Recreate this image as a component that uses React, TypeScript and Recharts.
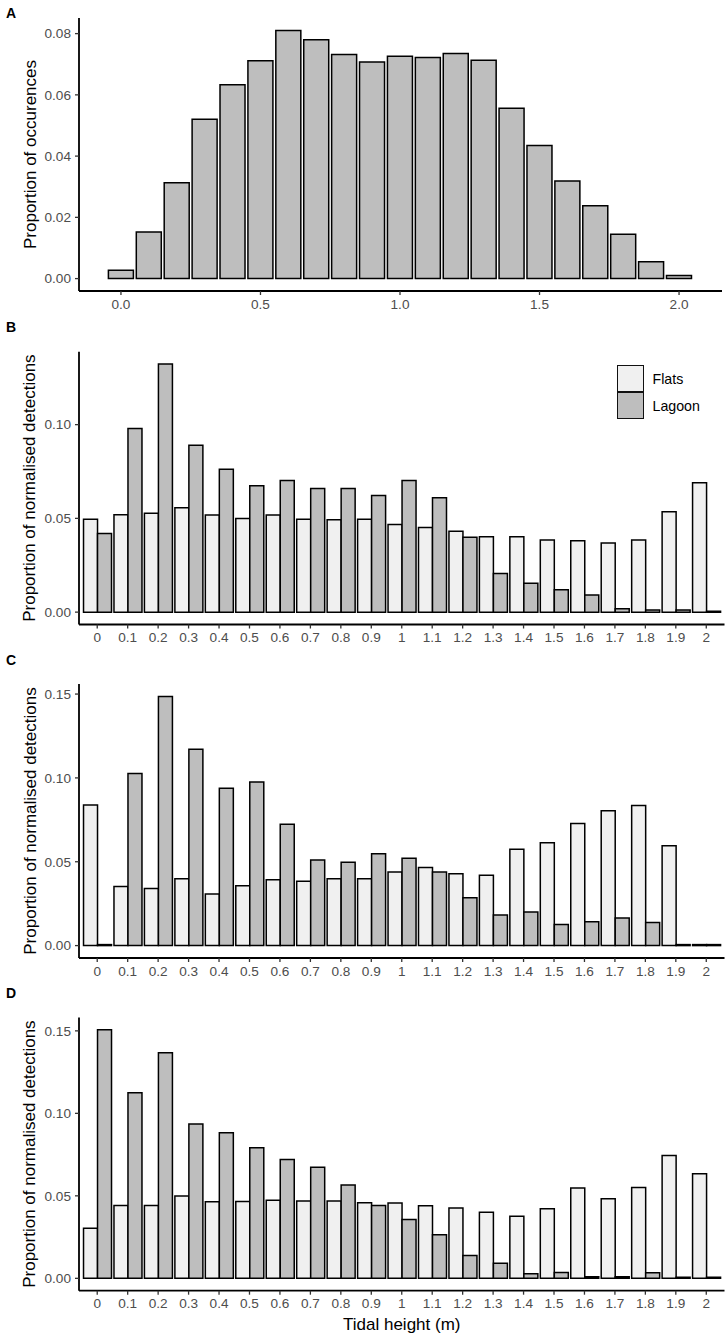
import React from 'react';
import { BarChart, Bar, XAxis, YAxis, Legend } from 'recharts';

const FONT = '"Liberation Sans", Arial, Helvetica, sans-serif';
const TICK_GREY = '#4D4D4D';
const OCC_FILL = '#BEBEBE';
const FLATS_FILL = '#F0F0F0';
const LAGOON_FILL = '#BEBEBE';

// tidal height bins (m)
const heights = [0, 0.1, 0.2, 0.3, 0.4, 0.5, 0.6, 0.7, 0.8, 0.9, 1, 1.1, 1.2, 1.3, 1.4, 1.5, 1.6, 1.7, 1.8, 1.9, 2];

// A: proportion of occurences of each tidal height
const occurrences = [
  0.0027, 0.0152, 0.0313, 0.052, 0.0633, 0.0711, 0.081, 0.078, 0.0732, 0.0707, 0.0726,
  0.0722, 0.0735, 0.0713, 0.0556, 0.0435, 0.0319, 0.0238, 0.0145, 0.0055, 0.001,
];

// B
const flatsB = [
  0.0495, 0.052, 0.0527, 0.0557, 0.0518, 0.05, 0.0518, 0.0495, 0.0493, 0.0495, 0.0468,
  0.0452, 0.0431, 0.0402, 0.0402, 0.0385, 0.0381, 0.0369, 0.0385, 0.0535, 0.069,
];
const lagoonB = [
  0.042, 0.098, 0.1323, 0.089, 0.0762, 0.0674, 0.0702, 0.066, 0.066, 0.0622, 0.0702,
  0.061, 0.0399, 0.0206, 0.0154, 0.0119, 0.0092, 0.0018, 0.0012, 0.0012, 0,
];

// C
const flatsC = [
  0.0838, 0.0353, 0.0341, 0.0399, 0.0307, 0.0357, 0.0393, 0.0383, 0.0399, 0.0399, 0.0439,
  0.0465, 0.0429, 0.0419, 0.0575, 0.0614, 0.0728, 0.0804, 0.0836, 0.0596, 0,
];
const lagoonC = [
  0, 0.1027, 0.1486, 0.1171, 0.0938, 0.0975, 0.0724, 0.0511, 0.0497, 0.0547, 0.0521,
  0.0439, 0.0285, 0.0182, 0.0201, 0.0126, 0.0142, 0.0164, 0.0138, 0, 0,
];

// D
const flatsD = [
  0.0304, 0.0442, 0.0442, 0.0499, 0.0464, 0.0466, 0.0474, 0.0468, 0.0468, 0.0458, 0.0456,
  0.044, 0.0426, 0.0401, 0.0377, 0.0422, 0.0547, 0.0482, 0.0551, 0.0744, 0.0634,
];
const lagoonD = [
  0.1506, 0.1125, 0.1368, 0.0935, 0.0882, 0.0791, 0.072, 0.0673, 0.0566, 0.0442, 0.0357,
  0.0264, 0.0138, 0.0091, 0.0028, 0.0036, 0.001, 0.001, 0.0034, 0, 0,
];

const occTicks = [0, 0.02, 0.04, 0.06, 0.08];
const detTicksB = [0, 0.05, 0.1];
const detTicksCD = [0, 0.05, 0.1, 0.15];

const occData = heights.map((h, i) => ({ h, occ: occurrences[i] }));
const makeRows = (flats: number[], lagoon: number[]) =>
  heights.map((h, i) => ({ h, flats: flats[i], lagoon: lagoon[i] }));

const BAR_STROKE = 1.5;
const tickStyle = { fill: TICK_GREY, fontSize: 13.6, fontFamily: FONT };
const axisLine = { stroke: '#000', strokeWidth: 1.8 };
const tickLine = { stroke: '#333', strokeWidth: 1.3 };

const yTitle = (text: string) => ({
  content: (props: any) => {
    const vb = props.viewBox || {};
    const cx = 30;
    const cy = (vb.y ?? 0) + (vb.height ?? 0) / 2;
    return (
      <text
        x={cx}
        y={cy}
        transform={`rotate(-90 ${cx} ${cy})`}
        textAnchor="middle"
        dominantBaseline="central"
        fontSize={17}
        fontFamily={FONT}
        fill="#000"
      >
        {text}
      </text>
    );
  },
});

const xTitle = (text: string) => ({
  content: (props: any) => {
    const vb = props.viewBox || {};
    const cx = (vb.x ?? 0) + (vb.width ?? 0) / 2;
    const cy = (vb.y ?? 0) + 34;
    return (
      <text x={cx} y={cy} textAnchor="middle" dominantBaseline="central" fontSize={17} fontFamily={FONT} fill="#000">
        {text}
      </text>
    );
  },
});

const LEGEND_FILLS: Record<string, string> = { Flats: FLATS_FILL, Lagoon: LAGOON_FILL };

const LegendBox = (props: any) => {
  const items = props.payload || [];
  return (
    <div style={{ fontFamily: FONT }}>
      {items.map((it: any) => (
        <div key={it.value} style={{ display: 'flex', alignItems: 'center', height: 27 }}>
          <div
            style={{
              width: 26.5,
              height: 27,
              boxSizing: 'border-box',
              border: '1.5px solid #111',
              background: LEGEND_FILLS[it.value] || it.color,
            }}
          />
          <span style={{ marginLeft: 9, fontSize: 14.2, color: '#000' }}>{it.value}</span>
        </div>
      ))}
    </div>
  );
};

const PanelLetter = ({ letter, top }: { letter: string; top: number }) => (
  <div
    style={{
      position: 'absolute',
      left: 6,
      top,
      fontFamily: FONT,
      fontWeight: 'bold',
      fontSize: 14,
      lineHeight: '14px',
    }}
  >
    {letter}
  </div>
);

type DetProps = {
  top: number;
  height: number;
  plotTop: number;
  xAxisHeight: number;
  flats: number[];
  lagoon: number[];
  domain: [number, number];
  ticks: number[];
  legend?: boolean;
  xLabel?: boolean;
};

const DetectionPanel = ({ top, height, plotTop, xAxisHeight, flats, lagoon, domain, ticks, legend, xLabel }: DetProps) => (
  <div style={{ position: 'absolute', left: 0, top }}>
    <BarChart
      width={727}
      height={height}
      data={makeRows(flats, lagoon)}
      margin={{ top: plotTop, right: 2.5, left: 0, bottom: 0 }}
      barGap={0}
      barCategoryGap="5%"
    >
      <XAxis
        dataKey="h"
        interval={0}
        height={xAxisHeight}
        padding={{ left: 3, right: 3 }}
        tickFormatter={(v) => String(v)}
        tick={tickStyle}
        tickSize={4}
        tickMargin={4}
        axisLine={axisLine}
        tickLine={tickLine}
        label={xLabel ? xTitle('Tidal height (m)') : undefined}
      />
      <YAxis
        type="number"
        width={79}
        domain={domain}
        allowDataOverflow
        ticks={ticks}
        interval={0}
        tickFormatter={(v) => Number(v).toFixed(2)}
        tick={tickStyle}
        tickSize={4}
        tickMargin={4}
        axisLine={axisLine}
        tickLine={tickLine}
        label={yTitle('Proportion of normalised detections')}
      />
      {legend && (
        <Legend
          layout="vertical"
          align="center"
          verticalAlign="middle"
          wrapperStyle={{ top: 45, left: 617, width: 'auto' }}
          content={LegendBox}
        />
      )}
      <Bar dataKey="flats" name="Flats" fill={FLATS_FILL} stroke="#000" strokeWidth={BAR_STROKE} minPointSize={1} isAnimationActive={false} />
      <Bar dataKey="lagoon" name="Lagoon" fill={LAGOON_FILL} stroke="#000" strokeWidth={BAR_STROKE} minPointSize={1} isAnimationActive={false} />
    </BarChart>
  </div>
);

export default function App() {
  return (
    <div style={{ position: 'absolute', left: 0, top: 0, width: 727, height: 1339, background: '#fff', fontFamily: FONT }}>
      <div style={{ position: 'absolute', left: 0, top: 0 }}>
        <BarChart
          width={727}
          height={320}
          data={occData}
          margin={{ top: 18, right: 5, left: 0, bottom: 0 }}
          barCategoryGap="5%"
        >
          <XAxis
            dataKey="h"
            interval={4}
            height={29}
            padding={{ left: 28, right: 29 }}
            tickFormatter={(v) => Number(v).toFixed(1)}
            tick={tickStyle}
            tickSize={4}
            tickMargin={4}
            axisLine={axisLine}
            tickLine={tickLine}
          />
          <YAxis
            type="number"
            width={79}
            domain={[-0.00405, 0.0851]}
            allowDataOverflow
            ticks={occTicks}
            interval={0}
            tickFormatter={(v) => Number(v).toFixed(2)}
            tick={tickStyle}
            tickSize={4}
            tickMargin={4}
            axisLine={axisLine}
            tickLine={tickLine}
            label={yTitle('Proportion of occurences')}
          />
          <Bar dataKey="occ" fill={OCC_FILL} stroke="#000" strokeWidth={BAR_STROKE} isAnimationActive={false} />
        </BarChart>
      </div>

      <DetectionPanel
        top={320}
        height={340}
        plotTop={31.7}
        xAxisHeight={35.5}
        flats={flatsB}
        lagoon={lagoonB}
        domain={[-0.0066, 0.1389]}
        ticks={detTicksB}
        legend
      />
      <DetectionPanel
        top={660}
        height={340}
        plotTop={24}
        xAxisHeight={42}
        flats={flatsC}
        lagoon={lagoonC}
        domain={[-0.0074, 0.156]}
        ticks={detTicksCD}
      />
      <DetectionPanel
        top={1000}
        height={339}
        plotTop={17.5}
        xAxisHeight={48.3}
        flats={flatsD}
        lagoon={lagoonD}
        domain={[-0.0075, 0.1581]}
        ticks={detTicksCD}
        xLabel
      />

      <PanelLetter letter="A" top={6} />
      <PanelLetter letter="B" top={320} />
      <PanelLetter letter="C" top={653} />
      <PanelLetter letter="D" top={986} />
    </div>
  );
}
